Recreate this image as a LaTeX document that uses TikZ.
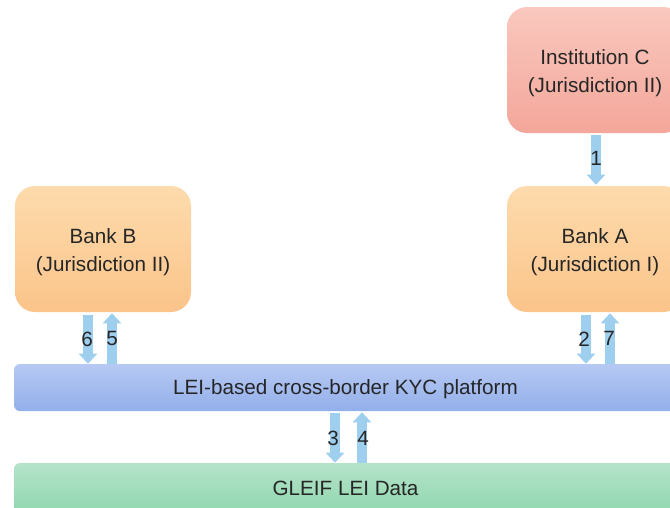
\documentclass[tikz,border=0pt]{standalone}
\usepackage{fontspec}
\setmainfont{Liberation Sans}
\usetikzlibrary{arrows.meta,calc}
\definecolor{txt}{HTML}{262626}
\definecolor{arrowc}{HTML}{9FCFEF}
\definecolor{pinkT}{HTML}{F9C8BE}
\definecolor{pinkB}{HTML}{F4A69A}
\definecolor{orT}{HTML}{FDDBAD}
\definecolor{orB}{HTML}{FBC48A}
\definecolor{blT}{HTML}{B6C9F3}
\definecolor{blB}{HTML}{93AFEA}
\definecolor{grT}{HTML}{B5E3CA}
\definecolor{grB}{HTML}{8FD7AE}
\newcommand\topstrut{\rule{0pt}{16.5pt}}
\begin{document}
\begin{tikzpicture}[x=0.75pt,y=-0.75pt,
  box/.style={rounded corners=15pt, align=center, text=txt, inner sep=0pt,
    font=\fontsize{15.5}{21}\selectfont},
  bankbox/.style={box, top color=orT, bottom color=orB, minimum width=132pt, minimum height=94.5pt},
  instbox/.style={box, top color=pinkT, bottom color=pinkB, minimum width=132pt, minimum height=94.5pt},
  barbox/.style={box, rounded corners=4.5pt, minimum width=497.25pt},
  flow/.style={draw=arrowc, line width=7.5pt, -{Triangle[width=13.5pt,length=7.5pt]}},
  lbl/.style={text=txt, inner sep=0pt, font=\fontsize{15.5}{21}\selectfont}
]
\useasboundingbox (0,0) rectangle (670,507);
\clip (0,0) rectangle (670,507);

\node[instbox] (instC) at (595,70) {\topstrut Institution C\\(Jurisdiction II)};
\node[bankbox] (bankB) at (103,249) {\topstrut Bank B\\(Jurisdiction II)};
\node[bankbox] (bankA) at (595,249) {\topstrut Bank A\\(Jurisdiction I)};
\node[barbox, top color=blT, bottom color=blB, minimum height=35.25pt] (plat) at (345.5,387.5) {\rule{0pt}{13pt}LEI-based cross-border KYC platform};
\node[barbox, top color=grT, bottom color=grB, minimum height=37.5pt] (gleif) at (345.5,488) {GLEIF LEI Data};

% helper coordinates for the arrow columns
\coordinate (c1t) at ($(instC.south)+(1,2)$);
\coordinate (c1b) at ($(bankA.north)+(1,-1)$);
\coordinate (c6) at ($(bankB.south)+(-15,3)$);
\coordinate (c5) at ($(bankB.south)+(9,1)$);
\coordinate (c2) at ($(bankA.south)+(-9,3)$);
\coordinate (c7) at ($(bankA.south)+(15,1)$);
\coordinate (c3) at ($(plat.south)+(-10.5,2)$);
\coordinate (c4) at ($(plat.south)+(16.5,1)$);

% 1
\draw[flow] (c1t) -- (c1b) node[lbl, midway, yshift=1.5pt] {1};
% 6 and 5
\draw[flow] (c6) -- (c6 |- plat.north) node[lbl, midway, xshift=-0.75pt] {6};
\draw[flow] (c5 |- plat.north) -- (c5) node[lbl, midway] {5};
% 2 and 7
\draw[flow] (c2) -- (c2 |- plat.north) node[lbl, midway, xshift=-1.5pt] {2};
\draw[flow] (c7 |- plat.north) -- (c7) node[lbl, midway, xshift=-0.75pt] {7};
% 3 and 4
\draw[flow] (c3) -- (c3 |- gleif.north) node[lbl, midway, xshift=-1.5pt] {3};
\draw[flow] (c4 |- gleif.north) -- (c4) node[lbl, midway, xshift=0.75pt, yshift=-1pt] {4};
\end{tikzpicture}
\end{document}
